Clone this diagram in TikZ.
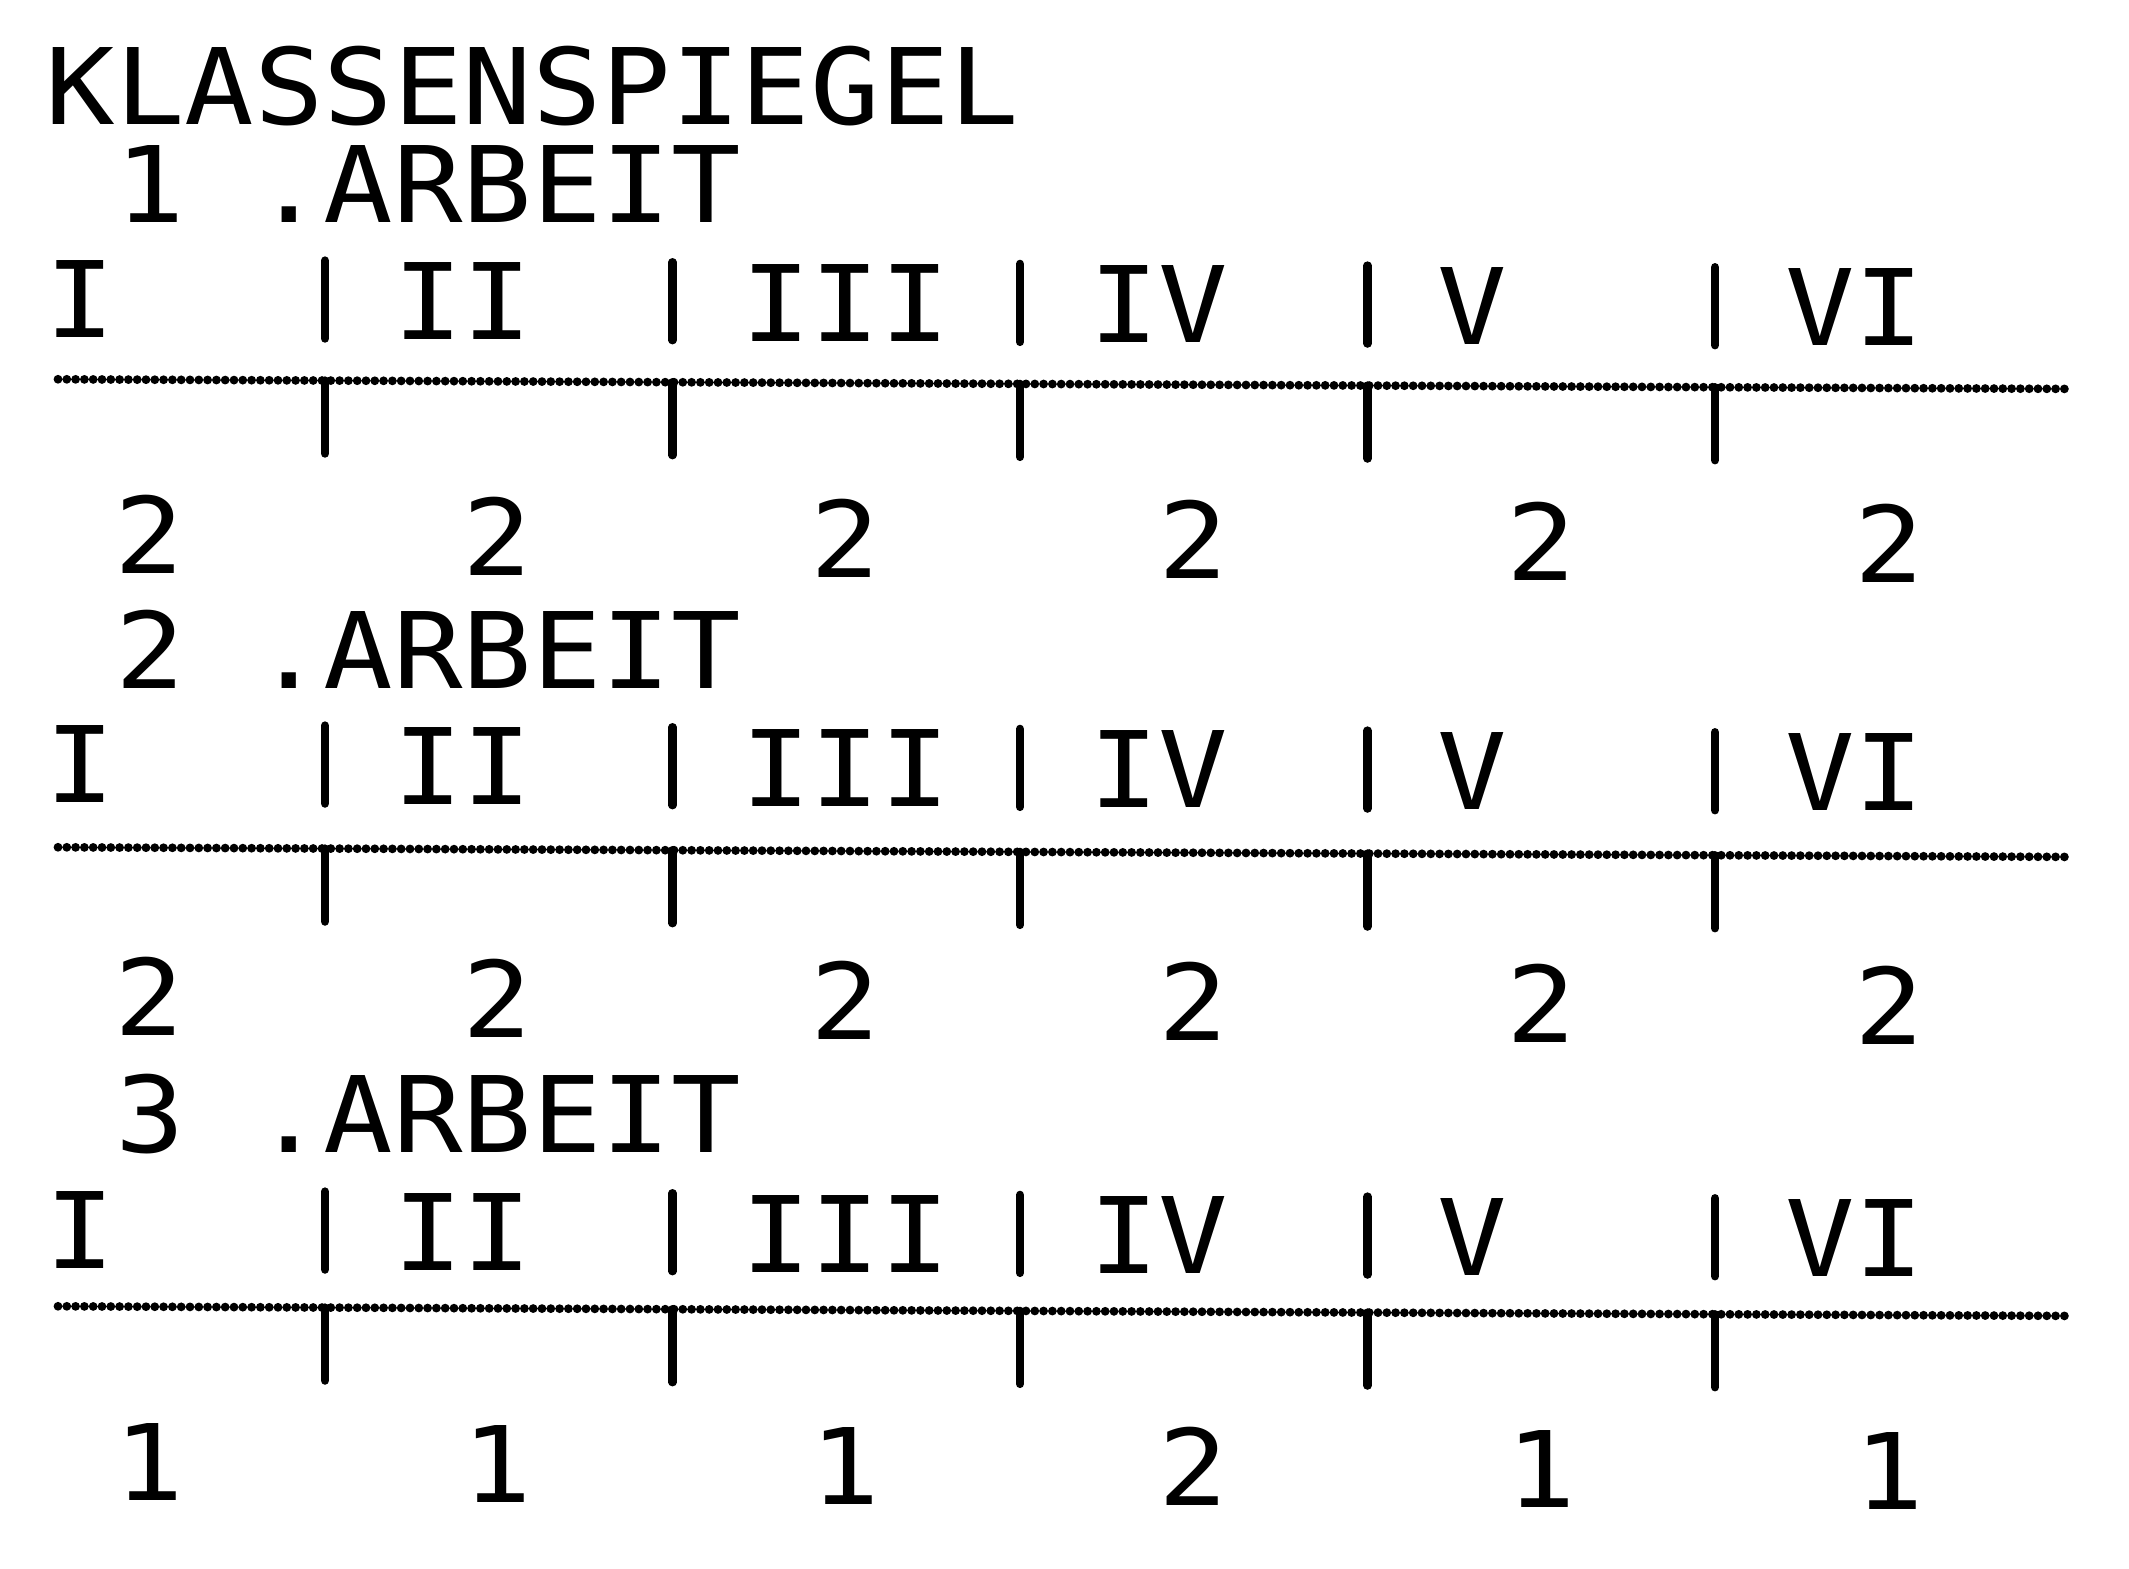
\documentclass[tikz,border=0pt]{standalone}
\usepackage{fontspec}
\newfontfamily\dm[FakeStretch=1.094]{DejaVu Sans Mono}
\begin{document}
\begin{tikzpicture}[x=0.25pt,y=-0.25pt,
  txt/.style={anchor=base,inner sep=0pt,outer sep=0pt,text=black,font=\dm\fontsize{26.4}{26.4}\selectfont},
  rulerline/.style={line width=2.2pt,line cap=round,draw=black,dash pattern=on 0pt off 2.2pt},
  sepbar/.style={line width=2.1pt,line cap=round,draw=black}]
\useasboundingbox[fill=white] (0,0) rectangle (2129,1569);
\begin{scope}[cm={1,-0.0048,0,1,(0,0)}]
\node[txt] (title) at (532.4,122) {KLASSENSPIEGEL};
\foreach \k/\ya/\yr/\yl/\yn/\digits in
  {1/220/337/379/573/{2,2,2,2,2,2},
   2/686/802/847/1035/{2,2,2,2,2,2},
   3/1150/1268/1306/1500/{1,1,1,2,1,1}}{
  % heading of the block
  \node[txt] (arb\k) at (428,\ya) {\k{} .ARBEIT};
  % column labels
  \foreach \lab/\cx [count=\i] in {I/80,II/462.8,III/845.6,IV/1158.8,V/1472,VI/1854.8}{
    \node[txt] (r\k-\i) at (\cx,\yr) {\lab};
  }
  % ruler line
  \coordinate (la\k) at (58,\yl);
  \coordinate (lb\k) at (2066,\yl);
  \draw[rulerline] (la\k) -- (lb\k);
  % separators and ticks
  \foreach \s [count=\j] in {325,672.5,1020,1367.5,1715}{
    \coordinate (st\k-\j) at (\s,{\yr-78});
    \coordinate (sb\k-\j) at (\s,\yr);
    \draw[sepbar] (st\k-\j) -- (sb\k-\j);
    \coordinate (tt\k-\j) at (\s,\yl);
    \coordinate (tb\k-\j) at (\s,{\yl+73});
    \draw[sepbar] (tt\k-\j) -- (tb\k-\j);
  }
  % grades
  \foreach \d [count=\i from 0] in \digits{
    \node[txt] (n\k-\i) at ({149.6+348*\i},\yn) {\d};
  }
}
\end{scope}
\end{tikzpicture}
\end{document}
